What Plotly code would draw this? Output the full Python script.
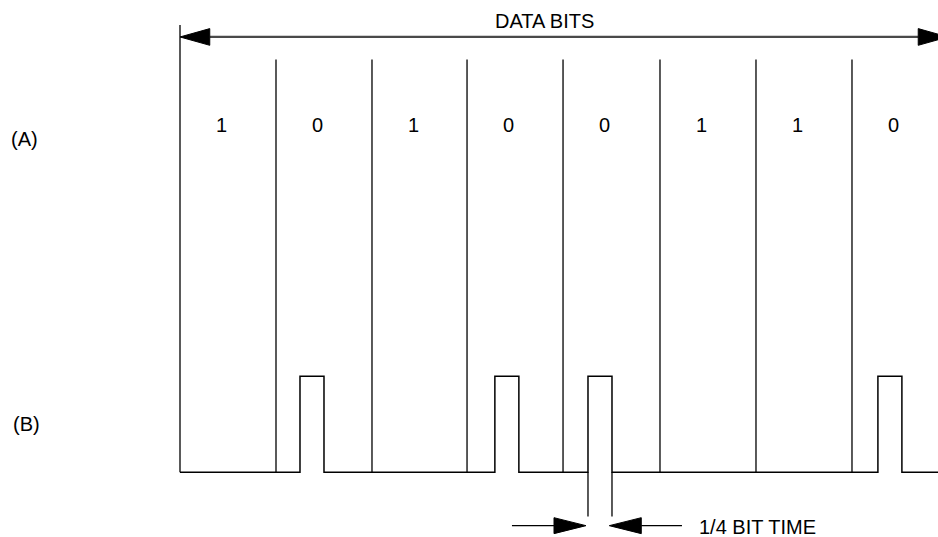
import plotly.graph_objects as go

# bit values of waveform (A), one per bit cell
bits = [1, 0, 1, 0, 0, 1, 1, 0]
bit_edges = [0, 1, 2, 2.99, 3.99, 5, 6, 7]    # cell boundaries, in bit times
frame_end = 8

# waveform (B): one pulse, 1/4 bit wide, inside every "0" cell
pulse_starts = [1.25, 3.28, 4.25, 7.27]
pulse_width = 0.25
pulse_high = 1.0

# geometry of the drawing, in bit times (x) and pulse heights (y)
divider_top = 4.30
frame_top = 4.66
arrow_y = 4.535
label_y = 3.62
dim_y = -0.556
dim_ext_bottom = -0.46
dim_pulse = 2  # index of the pulse that is dimensioned

FONT = "Liberation Sans Narrow, Arial Narrow, Liberation Sans, Arial, sans-serif"


def arrow_head(tip_x, tip_y, direction, length, half):
    """Triangle for a filled arrow head; direction +1 points right, -1 left."""
    base = tip_x - direction * length
    return [tip_x, base, base, tip_x], [tip_y, tip_y + half, tip_y - half, tip_y]


fig = go.Figure()

# cell dividers and left frame line
vx, vy = [0, 0, None], [frame_top, 0, None]
for e in bit_edges[1:]:
    vx += [e, e, None]
    vy += [divider_top, 0, None]
fig.add_trace(go.Scatter(x=vx, y=vy, mode='lines',
                         line=dict(color='black', width=1.3), hoverinfo='skip'))

# waveform (B)
wx, wy = [0], [0]
for s in pulse_starts:
    wx += [s, s, s + pulse_width, s + pulse_width]
    wy += [0, pulse_high, pulse_high, 0]
wx.append(frame_end)
wy.append(0)
fig.add_trace(go.Scatter(x=wx, y=wy, mode='lines',
                         line=dict(color='black', width=1.5), hoverinfo='skip'))

# "DATA BITS" span arrow
head_len, head_half = 0.31, 0.087
fig.add_trace(go.Scatter(x=[head_len, frame_end - head_len], y=[arrow_y, arrow_y], mode='lines',
                         line=dict(color='#4a4a4a', width=2.2), hoverinfo='skip'))
for tip, d in [(0, -1), (frame_end, 1)]:
    hx, hy = arrow_head(tip, arrow_y, d, head_len, head_half)
    fig.add_trace(go.Scatter(x=hx, y=hy, mode='lines', fill='toself', fillcolor='black',
                             line=dict(color='black', width=1), hoverinfo='skip'))

# 1/4 bit time dimension
p0 = pulse_starts[dim_pulse]
p1 = p0 + pulse_width
fig.add_trace(go.Scatter(x=[p0, p0, None, p1, p1], y=[0, dim_ext_bottom, None, 0, dim_ext_bottom],
                         mode='lines', line=dict(color='black', width=1.3), hoverinfo='skip'))
d_len, d_half = 0.333, 0.083
left_tip, right_tip = p0 - 0.021, p1 - 0.028
fig.add_trace(go.Scatter(x=[left_tip - 0.771, left_tip - d_len, None, right_tip + d_len, right_tip + 0.757],
                         y=[dim_y, dim_y, None, dim_y, dim_y], mode='lines',
                         line=dict(color='black', width=1.3), hoverinfo='skip'))
for tip, d in [(left_tip, 1), (right_tip, -1)]:
    hx, hy = arrow_head(tip, dim_y, d, d_len, d_half)
    fig.add_trace(go.Scatter(x=hx, y=hy, mode='lines', fill='toself', fillcolor='black',
                             line=dict(color='black', width=1), hoverinfo='skip'))

# texts
text_font = dict(family=FONT, size=20, color='black')
annotations = [
    dict(x=3.80, y=4.70, text="DATA BITS", xanchor='center'),
    dict(x=-1.625, y=3.47, text="(A)", xanchor='center'),
    dict(x=-1.60, y=0.50, text="(B)", xanchor='center'),
    dict(x=5.39, y=-0.57, text="1/4 BIT TIME", xanchor='left'),
]
for i, b in enumerate(bits):
    annotations.append(dict(x=bit_edges[i] + 0.43, y=label_y, text=str(b), xanchor='center'))
for a in annotations:
    a.update(showarrow=False, yanchor='middle', font=text_font, xref='x', yref='y')

fig.update_layout(
    width=938, height=537, autosize=False,
    margin=dict(l=0, r=0, t=0, b=0),
    paper_bgcolor='white', plot_bgcolor='white',
    showlegend=False,
    annotations=annotations,
    xaxis=dict(range=[-1.875, 7.896], visible=False, fixedrange=True),
    yaxis=dict(range=[-0.674, 4.92], visible=False, fixedrange=True),
)

# the page body has an 8px default margin; drop it so the figure fills the window
fig.write_html("out.html", config=dict(displayModeBar=False),
               post_script="document.body.style.margin='0';document.body.style.overflow='hidden';")
